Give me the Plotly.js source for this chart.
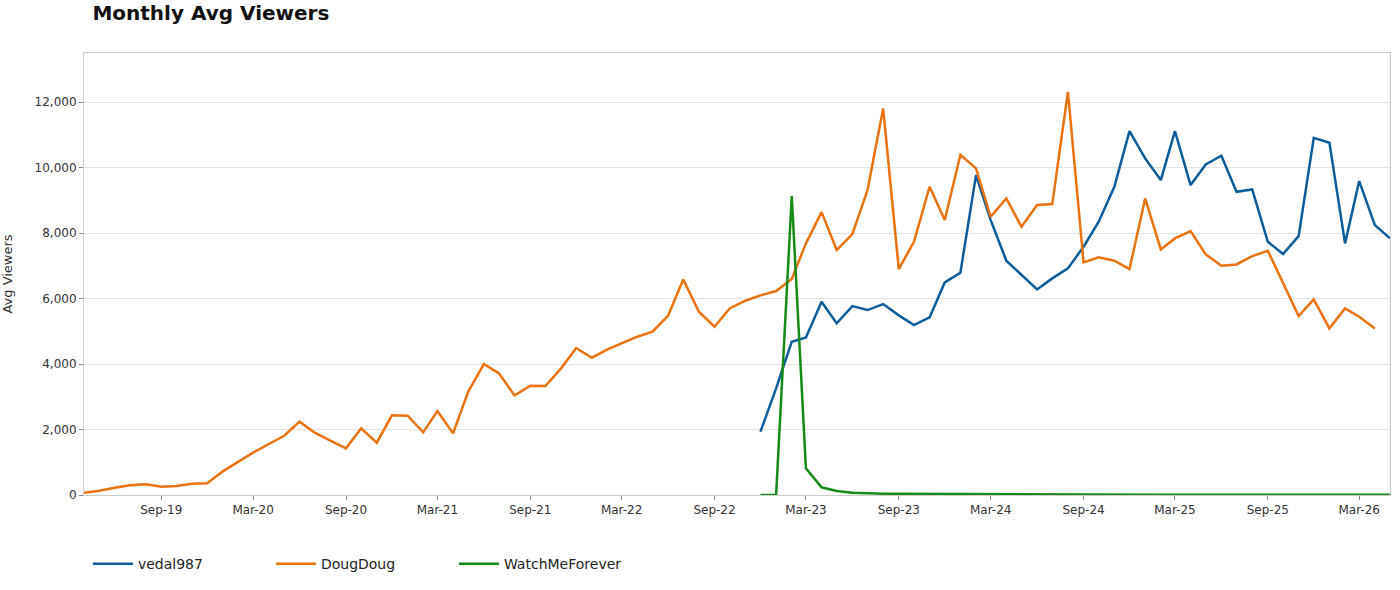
<!DOCTYPE html>
<html><head><meta charset="utf-8">
<script src="https://cdn.plot.ly/plotly-3.0.1.min.js"></script>
<style>body{margin:0;background:#fff}#c{width:1400px;height:590px}</style>
</head><body><div id="c"></div>
<script>
const startMonth = '2019-04';
const dougdoug = [70,132,224,295,326,254,275,346,356,723,1018,1293,1557,1802,2239,1904,1659,1425,2036,1598,2432,2422,1914,2565,1883,3155,4000,3715,3043,3338,3328,3868,4488,4193,4448,4631,4835,4987,5476,6585,5598,5140,5700,5933,6097,6229,6600,7685,8641,7481,7969,9313,11807,6901,7735,9414,8397,10392,9975,8498,9059,8193,8855,8885,12315,7105,7257,7155,6901,9059,7502,7837,8061,7349,7003,7043,7298,7460,6463,5466,5975,5089,5700,5445,5089];
const vedalStart = 44;
const vedal = [1934,3257,4682,4814,5903,5242,5771,5649,5832,5486,5191,5425,6494,6789,9771,8397,7155,6738,6280,6616,6922,7583,8346,9414,11115,10280,9618,11115,9466,10097,10361,9262,9333,7735,7359,7908,10911,10758,7685,9588,8244,7837];
const wmfStart = 44;
const wmf = [0,0,9130,814,235,122,70,50,40,35,40,45,30,28,25,22,20,18,16,15,14,14,13,12,12,11,11,10,10,10,10,9,9,9,9,8,8,8,8,8,8,8];
function monthDate(i){const y=2019+Math.floor((3+i)/12);const m=(3+i)%12+1;return y+'-'+String(m).padStart(2,'0')+'-01';}
const xs=(start,arr)=>arr.map((_,k)=>monthDate(start+k));
const traces=[
 {x:xs(vedalStart,vedal),y:vedal,name:'vedal987',mode:'lines',line:{color:'#0b5c99',width:2.5}},
 {x:xs(0,dougdoug),y:dougdoug,name:'DougDoug',mode:'lines',line:{color:'#e8730f',width:2.5}},
 {x:xs(wmfStart,wmf),y:wmf,name:'WatchMeForever',mode:'lines',line:{color:'#168a16',width:2.5}}
];
const layout={
 width:1400,height:590,paper_bgcolor:'#fff',plot_bgcolor:'#fff',
 font:{family:'DejaVu Sans, sans-serif',size:12,color:'#333'},
 margin:{l:84,r:10,t:53,b:95},
 title:{text:'<b>Monthly Avg Viewers</b>',x:0.066,xanchor:'left',y:0.99,yanchor:'top',font:{size:20,color:'#111'}},
 xaxis:{type:'date',range:['2019-04-01','2026-05-01'],tick0:'2019-09-01',dtick:'M6',tickformat:'%b-%y',
   showgrid:false,showline:true,mirror:true,linecolor:'#ccc',ticks:'outside',tickcolor:'#888',ticklen:4,zeroline:false},
 yaxis:{title:{text:'Avg Viewers',font:{size:13},standoff:22},range:[0,13500],tickvals:[0,2000,4000,6000,8000,10000,12000],
   tickformat:',d',gridcolor:'#e3e3e3',showline:true,mirror:true,linecolor:'#ccc',ticks:'outside',tickcolor:'#888',ticklen:4,zeroline:false},
 showlegend:true,
 legend:{orientation:'h',x:0.003,xanchor:'left',y:-0.12,yanchor:'top',entrywidth:128,itemwidth:40,font:{size:14,color:'#222'}}
};
Plotly.newPlot('c',traces,layout,{displayModeBar:false});
</script></body></html>
